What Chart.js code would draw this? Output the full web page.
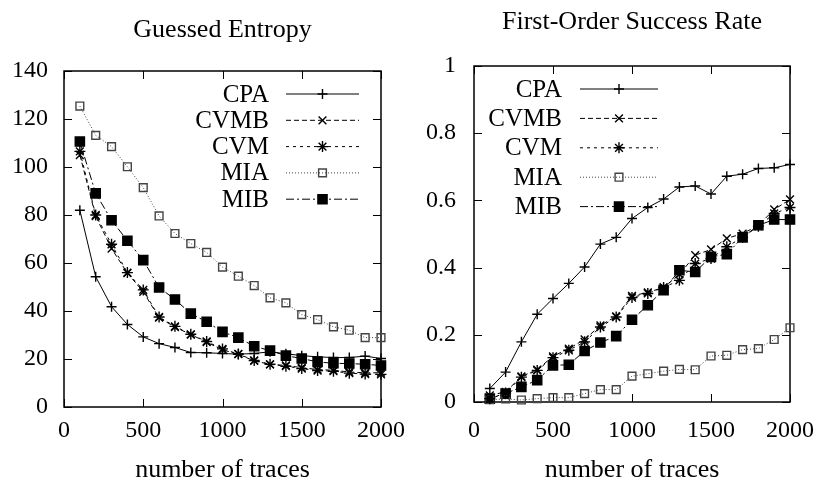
<!DOCTYPE html>
<html>
<head>
<meta charset="utf-8">
<script src="https://cdn.jsdelivr.net/npm/chart.js@4.4.1/dist/chart.umd.min.js"></script>
<style>
  html, body { margin: 0; padding: 0; background: #fff; }
  .panel { position: absolute; top: 0; width: 414px; height: 483px; }
</style>
</head>
<body>
<div class="panel" style="left:0"><canvas id="entropyChart" width="414" height="483"></canvas></div>
<div class="panel" style="left:414px"><canvas id="successChart" width="414" height="483"></canvas></div>
<script>
// number of traces (x axis)
const traces = [100, 200, 300, 400, 500, 600, 700, 800, 900, 1000,
                1100, 1200, 1300, 1400, 1500, 1600, 1700, 1800, 1900, 2000];

const seriesNames = ["CPA", "CVMB", "CVM", "MIA", "MIB"];

// Guessed Entropy
const entropyCPA  = [82, 54.3, 41.8, 34.4, 29.2, 26.4, 24.8, 22.7, 22.6, 22.3, 22, 22.3, 23, 22.2, 21.4, 20.9, 20.6, 20.6, 21.2, 20.2];
const entropyCVMB = [105, 79.5, 66, 55.8, 48, 37.2, 33.3, 30.2, 27, 23.8, 22, 19.2, 17.8, 17.3, 16.4, 15.6, 15.3, 14.6, 14.2, 14.3];
const entropyCVM  = [106.5, 80, 67.8, 56, 48.8, 37.5, 33.6, 30.3, 27.3, 24.2, 22.1, 19.4, 17.8, 17, 16, 15.2, 14.9, 14.1, 13.7, 13.6];
const entropyMIA  = [125.4, 113.2, 108.5, 100.1, 91.4, 79.6, 72.3, 68.1, 64.4, 58.3, 54.5, 50.6, 45.5, 43.4, 38.5, 36.4, 33.4, 32, 28.9, 28.9];
const entropyMIB  = [110.6, 89, 77.8, 69.3, 61.2, 49.8, 44.8, 38.9, 35.5, 31.3, 28.9, 25.3, 23.5, 21.4, 20.2, 18.8, 18.2, 18.1, 17.8, 17.3];

// First-Order Success Rate
const successCPA  = [0.04, 0.089, 0.179, 0.261, 0.308, 0.353, 0.402, 0.47, 0.49, 0.546, 0.579, 0.604, 0.64, 0.643, 0.619, 0.672, 0.678, 0.695, 0.697, 0.707];
const successCVMB = [0.02, 0.03, 0.076, 0.096, 0.136, 0.159, 0.186, 0.228, 0.255, 0.316, 0.326, 0.341, 0.38, 0.437, 0.454, 0.487, 0.501, 0.526, 0.573, 0.603];
const successCVM  = [0.01, 0.027, 0.074, 0.094, 0.132, 0.154, 0.179, 0.223, 0.253, 0.311, 0.323, 0.341, 0.362, 0.412, 0.427, 0.462, 0.49, 0.523, 0.561, 0.579];
const successMIA  = [0.007, 0.009, 0.006, 0.01, 0.013, 0.013, 0.025, 0.037, 0.037, 0.077, 0.084, 0.092, 0.097, 0.096, 0.137, 0.139, 0.156, 0.159, 0.186, 0.221];
const successMIB  = [0.01, 0.025, 0.045, 0.065, 0.109, 0.111, 0.152, 0.177, 0.196, 0.245, 0.288, 0.333, 0.392, 0.387, 0.432, 0.44, 0.49, 0.526, 0.543, 0.543];

const xTicks = [0, 500, 1000, 1500, 2000];
const entropyTicks = [0, 20, 40, 60, 80, 100, 120, 140];
const successTicks = [0, 0.2, 0.4, 0.6, 0.8, 1];

const serif = "'Liberation Serif', 'Times New Roman', serif";

const estilos = {
    CPA:  { pointStyle: "cross",    radius: 5,   dash: [],           cor: "#000", fundo: "transparent" },
    CVMB: { pointStyle: "crossRot", radius: 5.5, dash: [5, 3],       cor: "#000", fundo: "transparent" },
    CVM:  { pointStyle: "star",     radius: 5.5, dash: [3, 4],       cor: "#000", fundo: "transparent" },
    MIA:  { pointStyle: "rect",     radius: 5.5, dash: [1, 2],       cor: "#444", fundo: "transparent" },
    MIB:  { pointStyle: "rect",     radius: 6.5, dash: [8, 3, 2, 3], cor: "#000", fundo: "#000" }
};

function montarDataset(nome, valores) {
    const e = estilos[nome];
    return {
        label: nome,
        data: traces.map((t, i) => ({ x: t, y: valores[i] })),
        borderColor: e.cor,
        borderWidth: 1,
        borderDash: e.dash,
        pointStyle: e.pointStyle,
        pointRadius: e.radius,
        pointBorderColor: e.cor,
        pointBackgroundColor: e.fundo,
        pointBorderWidth: 1.4,
        tension: 0,
        fill: false,
        clip: false
    };
}

// gnuplot-like frame with inward ticks on all four sides, plus the title centred on the plot
const molduraPlugin = {
    id: "moldura",
    beforeDatasetsDraw(chart, args, opts) {
        const { ctx, chartArea: a, scales } = chart;
        const len = 8;
        ctx.save();
        ctx.strokeStyle = "#000";
        ctx.lineWidth = 1;
        ctx.setLineDash([]);
        ctx.beginPath();
        scales.x.ticks.forEach(t => {
            const px = Math.round(scales.x.getPixelForValue(t.value)) + 0.5;
            ctx.moveTo(px, a.bottom); ctx.lineTo(px, a.bottom - len);
            ctx.moveTo(px, a.top); ctx.lineTo(px, a.top + len);
        });
        scales.y.ticks.forEach(t => {
            const py = Math.round(scales.y.getPixelForValue(t.value)) + 0.5;
            ctx.moveTo(a.left, py); ctx.lineTo(a.left + len, py);
            ctx.moveTo(a.right, py); ctx.lineTo(a.right - len, py);
        });
        ctx.stroke();
        ctx.lineWidth = 1.5;
        ctx.strokeRect(a.left, a.top, a.right - a.left, a.bottom - a.top);

        ctx.font = "26px " + serif;
        ctx.fillStyle = "#000";
        ctx.textAlign = "center";
        ctx.textBaseline = "middle";
        ctx.fillText(opts.titulo, (a.left + a.right) / 2, opts.tituloY);
        ctx.restore();
    }
};

// key drawn inside the plot: text right-aligned, then line sample with marker
const chavePlugin = {
    id: "chave",
    afterDatasetsDraw(chart, args, opts) {
        const { ctx, chartArea: a } = chart;
        ctx.save();
        chart.data.datasets.forEach((ds, i) => {
            const y = a.top + opts.top + i * opts.passo;
            ctx.font = "25px " + serif;
            ctx.fillStyle = "#000";
            ctx.textAlign = "right";
            ctx.textBaseline = "middle";
            ctx.fillText(ds.label, a.left + opts.textoDir, y + 1);

            ctx.strokeStyle = ds.borderColor;
            ctx.lineWidth = 1;
            ctx.setLineDash(ds.borderDash);
            ctx.beginPath();
            ctx.moveTo(a.left + opts.linhaIni, y);
            ctx.lineTo(a.left + opts.linhaFim, y);
            ctx.stroke();
            ctx.setLineDash([]);

            const mx = a.left + (opts.linhaIni + opts.linhaFim) / 2;
            ctx.strokeStyle = ds.pointBorderColor;
            ctx.fillStyle = ds.pointBackgroundColor;
            ctx.lineWidth = ds.pointBorderWidth;
            desenharMarcador(ctx, ds.pointStyle, ds.pointRadius, mx, y);
        });
        ctx.restore();
    }
};

function desenharMarcador(ctx, estilo, r, x, y) {
    const s = r / Math.SQRT2;
    ctx.beginPath();
    if (estilo === "rect") {
        ctx.rect(x - s, y - s, 2 * s, 2 * s);
        ctx.fill();
        ctx.stroke();
        return;
    }
    if (estilo === "cross" || estilo === "star") {
        ctx.moveTo(x, y - r); ctx.lineTo(x, y + r);
        ctx.moveTo(x - r, y); ctx.lineTo(x + r, y);
    }
    if (estilo === "crossRot" || estilo === "star") {
        ctx.moveTo(x - s, y - s); ctx.lineTo(x + s, y + s);
        ctx.moveTo(x + s, y - s); ctx.lineTo(x - s, y + s);
    }
    ctx.stroke();
}

function criarGrafico(canvasId, cfg) {
    const canvas = document.getElementById(canvasId);
    return new Chart(canvas, {
        type: "line",
        data: {
            datasets: seriesNames.map((n, i) => montarDataset(n, cfg.series[i]))
        },
        options: {
            responsive: false,
            animation: false,
            events: [],
            layout: { padding: { left: 0, right: cfg.padDir, top: cfg.topo, bottom: 0 } },
            plugins: {
                legend: { display: false },
                tooltip: { enabled: false },
                title: { display: false },
                moldura: { titulo: cfg.titulo, tituloY: cfg.tituloY },
                chave: cfg.chave
            },
            scales: {
                x: {
                    type: "linear",
                    min: 0,
                    max: 2000,
                    afterBuildTicks: (scale) => { scale.ticks = xTicks.map(v => ({ value: v })); },
                    grid: { display: false, drawTicks: false },
                    border: { display: false },
                    ticks: {
                        color: "#000",
                        padding: cfg.xPad,
                        maxRotation: 0,
                        font: { family: serif, size: 24, lineHeight: 1.2 },
                        callback: (v) => String(v)
                    },
                    title: {
                        display: true,
                        text: "number of traces",
                        color: "#000",
                        font: { family: serif, size: 26, lineHeight: 1 },
                        padding: { top: 0, bottom: 0 }
                    },
                    afterFit: (scale) => { scale.height = cfg.xAltura; }
                },
                y: {
                    min: 0,
                    max: cfg.yMax,
                    afterBuildTicks: (scale) => { scale.ticks = cfg.yTicks.map(v => ({ value: v })); },
                    grid: { display: false, drawTicks: false },
                    border: { display: false },
                    ticks: {
                        color: "#000",
                        padding: cfg.yPad,
                        font: { family: serif, size: 24, lineHeight: 1.2 },
                        callback: (v) => String(Math.round(v * 10) / 10)
                    },
                    afterFit: (scale) => { scale.width = cfg.yLargura; }
                }
            }
        },
        plugins: [molduraPlugin, chavePlugin]
    });
}

criarGrafico("entropyChart", {
    titulo: "Guessed Entropy",
    tituloY: 30,
    series: [entropyCPA, entropyCVMB, entropyCVM, entropyMIA, entropyMIB],
    yMax: 140,
    yTicks: entropyTicks,
    padDir: 23,
    topo: 71,
    xAltura: 76,
    xPad: 9,
    yPad: 16,
    yLargura: 64,
    chave: { top: 23, passo: 26.3, textoDir: 205, linhaIni: 222, linhaFim: 295 }
});

criarGrafico("successChart", {
    titulo: "First-Order Success Rate",
    tituloY: 22,
    series: [successCPA, successCVMB, successCVM, successMIA, successMIB],
    yMax: 1,
    yTicks: successTicks,
    padDir: 31,
    topo: 66,
    xAltura: 81,
    xPad: 14,
    yPad: 18,
    yLargura: 60,
    chave: { top: 23, passo: 29.4, textoDir: 88, linhaIni: 106, linhaFim: 184 }
});
</script>
</body>
</html>
